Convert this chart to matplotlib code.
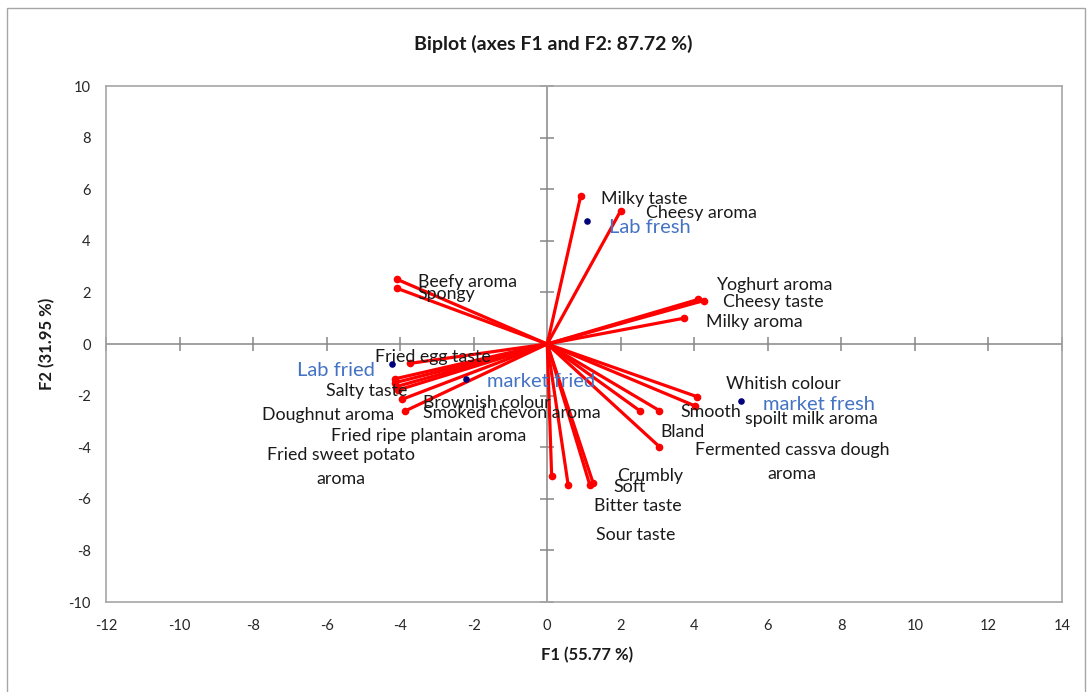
import matplotlib
matplotlib.use("Agg")
import matplotlib.pyplot as plt
from matplotlib.patches import Rectangle

plt.rcParams['font.family'] = ['Lato', 'DejaVu Sans']

# ---- data ----
variables = ["Milky taste", "Cheesy aroma", "Beefy aroma", "Spongy", "Yoghurt aroma",
             "Cheesy taste", "Milky aroma", "Fried egg taste", "Salty taste",
             "Brownish colour", "Smoked chevon aroma", "Fried sweet potato\naroma",
             "Fried ripe plantain aroma", "Doughnut aroma", "Whitish colour",
             "spoilt milk aroma", "Smooth", "Bland", "Fermented cassva dough\naroma",
             "Crumbly", "Soft", "Bitter taste", "Sour taste"]
var_f1 = [0.91, 2.00, -4.09, -4.09, 4.11, 4.25, 3.72, -3.73, -4.14, -4.14, -4.10, -4.05,
          -3.96, -3.87, 4.07, 4.02, 3.05, 2.51, 3.05, 1.25, 1.16, 0.57, 0.12]
var_f2 = [5.74, 5.17, 2.51, 2.16, 1.73, 1.68, 1.00, -0.75, -1.35, -1.50, -1.65, -1.78,
          -2.15, -2.60, -2.04, -2.40, -2.58, -2.58, -3.98, -5.40, -5.47, -5.47, -5.12]

observations = ["Lab fresh", "Lab fried", "market fried", "market fresh"]
obs_f1 = [1.09, -4.21, -2.21, 5.26]
obs_f2 = [4.77, -0.79, -1.36, -2.21]

title = "Biplot (axes F1 and F2: 87.72 %)"
xlabel = "F1 (55.77 %)"
ylabel = "F2 (31.95 %)"
xticks = list(range(-12, 15, 2))
yticks = list(range(-10, 11, 2))

# ---- label placement (layout only) ----
var_label_pos = {
    "Milky taste": (1.46, 5.62, 'left'),
    "Cheesy aroma": (2.69, 5.08, 'left'),
    "Beefy aroma": (-3.52, 2.40, 'left'),
    "Spongy": (-3.52, 1.94, 'left'),
    "Yoghurt aroma": (4.59, 2.29, 'left'),
    "Cheesy taste": (4.78, 1.63, 'left'),
    "Milky aroma": (4.32, 0.85, 'left'),
    "Fried egg taste": (-4.68, -0.50, 'left'),
    "Salty taste": (-6.02, -1.82, 'left'),
    "Brownish colour": (-3.38, -2.29, 'left'),
    "Smoked chevon aroma": (-3.38, -2.67, 'left'),
    "Fried sweet potato\naroma": (-5.61, -4.75, 'center'),
    "Fried ripe plantain aroma": (-5.87, -3.57, 'left'),
    "Doughnut aroma": (-7.75, -2.75, 'left'),
    "Whitish colour": (4.86, -1.55, 'left'),
    "spoilt milk aroma": (5.37, -2.91, 'left'),
    "Smooth": (3.61, -2.64, 'left'),
    "Bland": (3.07, -3.41, 'left'),
    "Fermented cassva dough\naroma": (6.66, -4.57, 'center'),
    "Crumbly": (1.90, -5.12, 'left'),
    "Soft": (1.81, -5.54, 'left'),
    "Bitter taste": (1.27, -6.28, 'left'),
    "Sour taste": (1.33, -7.40, 'left'),
}
obs_label_pos = {
    "Lab fresh": (1.68, 4.53),
    "Lab fried": (-6.80, -1.01),
    "market fried": (-1.64, -1.47),
    "market fresh": (5.87, -2.33),
}

W, H = 1088, 692
fig = plt.figure(figsize=(W / 100, H / 100), dpi=100)
ax = fig.add_axes([106 / W, 1 - 602 / H, (1062 - 106) / W, (602 - 86) / H])

grey = '#868686'
ax.set_xlim(-12, 14)
ax.set_ylim(-10, 10)
for s in ax.spines.values():
    s.set_color('#a6a6a6')
    s.set_linewidth(1.2)
ax.set_xticks(xticks)
ax.set_yticks(yticks)
ax.tick_params(length=0, colors='#404040', pad=11)
ax.tick_params(axis='x', pad=12)
ax.set_xticklabels([str(t) for t in xticks], fontsize=10.5, color='#262626')
ax.set_yticklabels([str(t) for t in yticks], fontsize=10.5, color='#262626')

# axes through origin with crossing ticks
ax.axhline(0, color=grey, lw=1.1, zorder=1)
ax.axvline(0, color=grey, lw=1.1, zorder=1)
ax.plot(xticks, [0] * len(xticks), ls='none', marker='|', ms=10, mew=1.1, color=grey, zorder=1, clip_on=False)
ax.plot([0] * len(yticks), yticks, ls='none', marker='_', ms=10, mew=1.1, color=grey, zorder=1, clip_on=False)

# variable vectors
for name, x, y in zip(variables, var_f1, var_f2):
    ax.plot([0, x], [0, y], color='#ff0000', lw=2.3, solid_capstyle='round',
            marker='o', ms=4.5, markevery=[1], zorder=3)
    lx, ly, ha = var_label_pos[name]
    ax.text(lx, ly, name, fontsize=12.8, color='#1a1a1a', ha=ha, va='center',
            linespacing=1.62, zorder=4)

# observations
ax.scatter(obs_f1, obs_f2, s=14, color='#00007a', zorder=5)
for name in observations:
    lx, ly = obs_label_pos[name]
    ax.text(lx, ly, name, fontsize=14.5, color='#4472c4', ha='left', va='center', zorder=4)

fig.text(553 / W, 1 - 44 / H, title, ha='center', va='center', fontsize=14, fontweight='bold', color='#1a1a1a')
fig.text(587 / W, 1 - 655 / H, xlabel, ha='center', va='center', fontsize=12, fontweight='bold', color='#1a1a1a')
fig.text(47 / W, 1 - 344 / H, ylabel, ha='center', va='center', rotation=90, fontsize=12, fontweight='bold', color='#1a1a1a')

# outer chart border
fig.patches.append(Rectangle((7 / W, -0.05), (1085 - 7) / W, 1.05 - 8 / H, transform=fig.transFigure,
                             fill=False, edgecolor='#a6a6a6', lw=1.0))

fig.savefig('out.png', dpi=100, facecolor='white')
